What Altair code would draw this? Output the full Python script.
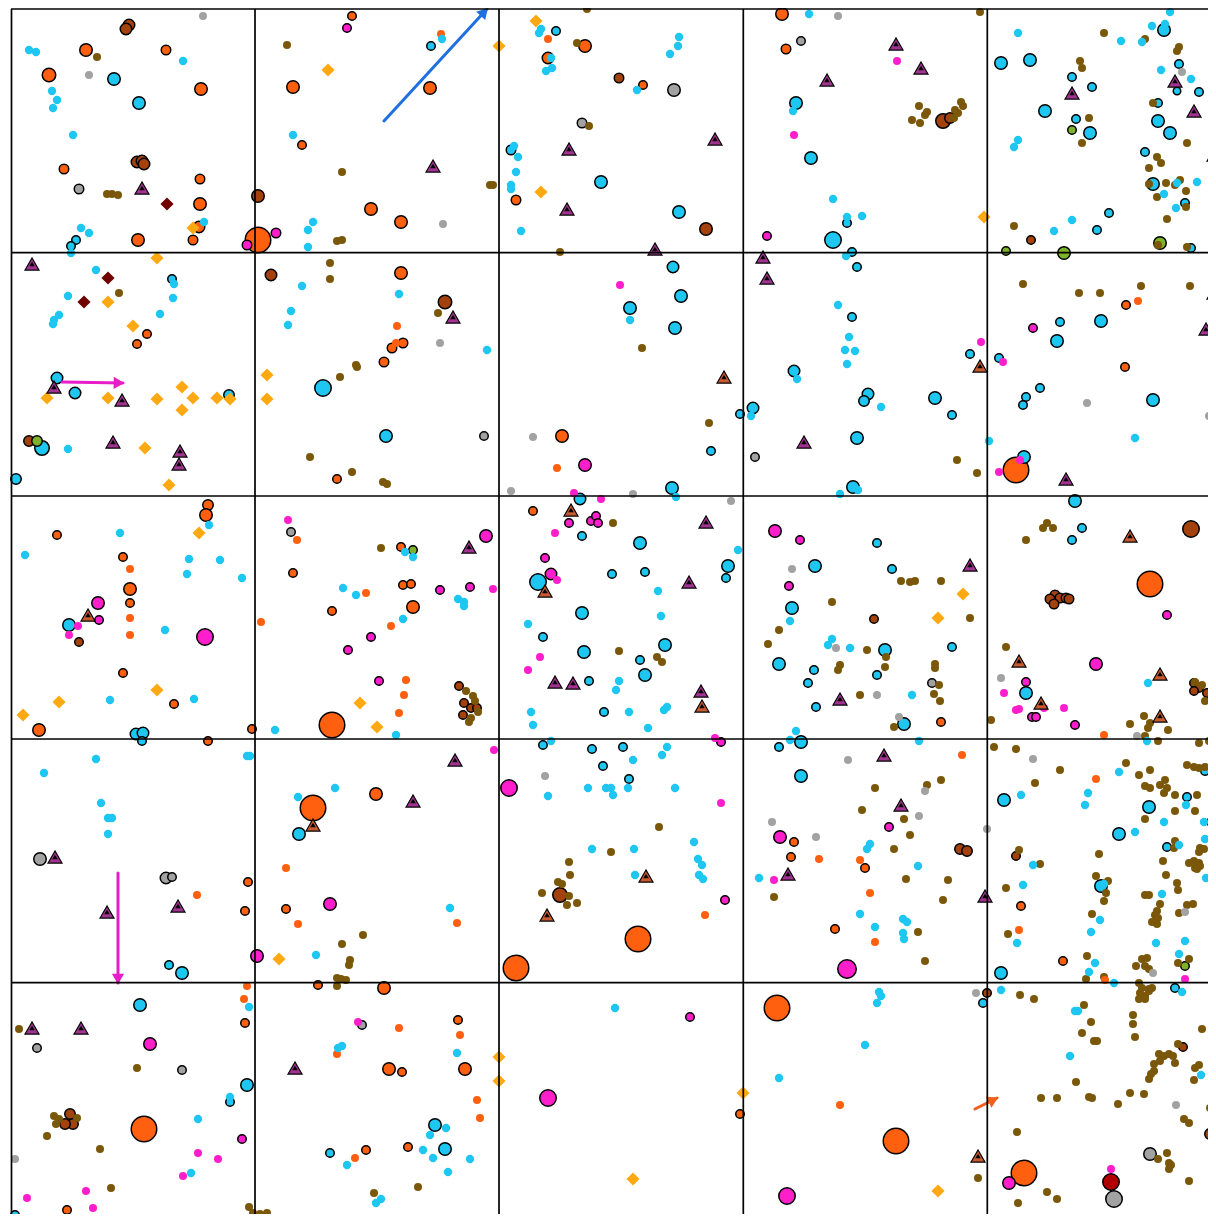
import altair as alt
import pandas as pd

# ---------------- data (stem map, local units; 244 units per quadrat) ----------------
quad_x = [0.5, 244, 488, 732.3, 976.3]
quad_y = [0, 243.7, 487, 730, 973.7]

cyan_small = [(18,41),(25,43),(172,52),(41,82),(46,91),(42,99),(62,126),(193,213),(70,219),(78,224),(60,244),(282,126),(297,221),(302,213),(297,238),
 (431,30),(528,24),(530,20),(540,49),(541,59),(535,62),(503,137),(507,148),(505,163),(500,176),(500,180),(510,222),(668,28),(667,37),(659,45),(626,81),
 (798,5),(782,102),(822,190),(836,208),(851,207),(835,247),
 (1159,3),(1007,24),(1110,32),(1141,17),(1154,15),(1131,33),(1150,61),(1180,70),(1007,131),(1003,138),(1166,174),(1186,173),(1153,185),(1165,199),(1061,211),(1043,222),
 (85,261),(163,275),(57,287),(162,289),(48,306),(43,311),(42,315),(149,305),(291,277),(280,302),(277,316),(57,440),(388,285),(476,341),(619,311),(665,488),(740,407),
 (827,296),(838,328),(834,341),(844,342),(836,355),(786,370),(870,398),(829,485),(847,481),(978,432),(1124,429),
 (198,516),(109,524),(14,546),(178,550),(209,551),(176,565),(231,569),(154,621),(99,691),(183,690),(264,721),(394,543),(402,548),(332,579),(345,586),(447,590),(453,593),
 (453,597),(392,610),(385,726),(517,615),(520,703),(522,716),(727,541),(647,582),(650,607),(608,672),(605,681),(618,703),(653,701),(656,698),(637,719),(779,612),(817,636),
 (821,630),(839,639),(901,686),(785,722),(779,731),(1137,674),(1136,732),(1204,741),(1203,749),(1201,757),
 (236,747),(239,747),(85,750),(33,764),(90,794),(97,809),(101,809),(97,825),(287,788),(324,779),(305,946),(439,899),(540,732),(537,787),(577,779),(595,779),(656,738),
 (651,746),(622,751),(617,779),(600,779),(602,786),(664,779),(581,840),(623,840),(683,833),(687,850),(691,856),(624,866),(688,866),(692,870),(859,835),(856,840),(748,869),
 (849,905),(864,918),(892,910),(896,913),(892,924),(893,930),(908,732),(907,857),(1108,763),(1077,784),(1074,796),(1010,786),(1175,796),(1124,823),(1153,813),(1193,813),
 (1168,836),(1194,830),(1022,856),(1012,876),(1006,934),(1195,869),(1093,875),(1151,885),(1089,911),(1080,923),(1145,934),(1174,932),(1168,945),(1084,954),(1078,963),
 (1103,974),(1171,983),
 (238,998),(219,1088),(187,1110),(180,1164),(331,1037),(327,1039),(446,1044),(435,1119),(419,1126),(336,1156),(412,1141),(422,1149),(459,1150),(437,1163),(370,1190),
 (365,1194),(604,999),(868,983),(870,987),(866,994),(854,1036),(768,1069),(990,981),(1064,1002),(1067,1002),(1059,1047),(1190,1066)]

cyan_big = [(103,70,14),(128,94,14),(65,231,10),(60,237,10),(420,37,10),(545,22,10),(500,141,11),(590,173,14),(668,203,14),(785,94,14),(800,149,14),(836,214,10),
 (822,231,18),(841,243,10),(1153,21,14),(990,54,14),(1019,51,14),(1061,68,10),(1081,78,10),(1168,55,10),(1166,82,9),(1188,83,10),(1034,102,14),(1065,110,10),(1079,124,14),
 (1147,94,10),(1147,112,14),(1159,124,14),(1134,143,10),(1142,175,14),(1174,194,10),(1098,204,10),(1086,221,10),(1180,239,10),(1204,214,10),(1204,228,10),
 (161,270,10),(46,369,13),(64,384,13),(218,386,12),(31,439,16),(5,470,12),(312,379,18),(375,427,14),(662,258,13),(670,287,14),(619,299,14),(664,319,14),(700,442,10),
 (661,479,14),(846,258,10),(841,308,10),(783,362,13),(857,385,13),(853,392,12),(742,399,13),(729,405,10),(846,429,14),(842,478,14),(941,406,10),(959,345,10),(924,389,14),
 (1090,312,14),(1049,313,10),(1046,332,14),(988,349,10),(1015,388,10),(1012,396,10),(1029,379,10),(1142,391,14),(1013,448,14),
 (58,616,14),(125,725,13),(132,724,13),(131,732,10),(569,490,13),(571,527,10),(527,573,18),(571,604,14),(532,628,10),(573,643,14),(578,672,10),(593,703,10),(629,534,14),
 (717,557,14),(715,569,10),(601,565,10),(634,563,10),(654,636,14),(629,651,10),(634,666,14),(866,534,10),(804,557,14),(881,560,10),(781,599,14),(874,641,14),(768,655,14),
 (803,661,10),(866,666,10),(797,674,10),(805,698,10),(893,715,14),(790,733,14),(768,738,10),(941,638,10),(1064,492,14),(1071,519,10),(1061,531,10),(1015,684,14),
 (288,825,14),(532,736,10),(581,740,10),(592,757,10),(612,738,10),(618,770,10),(790,767,14),(158,956,10),(171,964,14),(1194,762,10),(993,791,14),(1138,798,14),(1176,788,10),
 (1108,825,14),(1156,838,10),(1090,877,14),(990,964,14),(1164,979,10),
 (129,996,14),(236,1076,14),(219,1093,10),(4,1206,10),(424,1116,14),(319,1144,10),(434,1140,14),(972,994,10)]

orange_big = [(75,41,14),(155,41,11),(38,66,15),(190,80,14),(53,160,11),(189,170,11),(189,195,14),(188,218,13),(127,231,14),(182,231,11),(247,231,27),(282,78,14),
 (291,136,10),(341,7,10),(419,79,14),(360,200,14),(390,213,14),(574,37,14),(537,49,13),(505,191,11),(632,76,10),(771,5,14),(775,40,11),
 (136,325,10),(126,335,10),(390,264,14),(381,339,11),(392,334,11),(373,353,11),(326,470,10),(551,427,14),(1115,296,10),(1114,358,10),(1005,461,27),
 (197,496,12),(195,506,14),(46,526,10),(112,548,10),(119,580,14),(119,594,10),(112,664,10),(163,695,10),(28,721,14),(197,732,10),(241,720,10),(282,564,10),(522,502,10),
 (390,538,10),(392,576,10),(400,575,10),(321,602,10),(402,598,14),(321,716,27),(930,713,10),(1139,575,27),
 (365,785,14),(302,799,27),(237,873,10),(234,902,10),(275,900,10),(307,976,10),(373,979,14),(505,959,27),(627,930,27),(783,833,10),(780,848,10),(854,859,10),(824,920,10),
 (1010,897,10),(1052,952,10),
 (234,1014,10),(133,1120,27),(56,1201,10),(447,1011,10),(378,1060,14),(391,1063,10),(454,1060,14),(355,1141,10),(397,1138,10),(729,1105,10),(766,999,27),(885,1132,27),
 (1013,1164,27)]

orange_small = [(430,25),(537,30),(386,317),(385,334),(546,459),(1127,292),(119,560),(119,609),(119,626),(286,531),(250,613),(355,584),(380,617),(395,671),(393,686),
 (388,704),(1093,726),(186,886),(275,859),(287,915),(446,914),(694,906),(808,850),(849,851),(859,884),(864,933),(951,746),(1085,770),(1008,921),(1094,971),(236,977),
 (233,990),(388,1019),(449,1026),(326,1045),(466,1091),(469,1109),(344,1149),(829,1096)]

brown_small = [(86,48),(96,185),(101,185),(107,186),(276,36),(331,163),(479,176),(482,176),(326,232),(331,231),(576,0),(566,34),(578,117),(549,243),
 (908,97),(914,106),(901,111),(909,114),(916,103),(944,101),(950,93),(952,97),(947,104),(943,109),(969,3),(1093,24),(1134,30),(1168,38),(1166,42),(1069,52),(1071,59),
 (1078,109),(1071,134),(1142,94),(1176,134),(1146,148),(1150,154),(1138,159),(1138,175),(1155,174),(1164,176),(1169,171),(1175,182),(1146,188),(1175,198),(1156,210),
 (1003,217),(1147,236),(1176,238),
 (108,284),(319,254),(319,270),(427,304),(345,356),(346,358),(329,368),(299,448),(341,463),(372,473),(376,475),(631,339),(698,414),(946,451),(966,464),(1012,275),
 (1068,284),(1089,284),(1130,277),(1179,277),
 (370,539),(455,682),(462,687),(464,692),(467,703),(458,713),(460,709),(602,514),(608,642),(646,648),(651,653),(890,572),(899,573),(821,593),(768,621),(757,635),(856,641),
 (875,648),(874,658),(829,656),(827,661),(849,686),(883,718),(904,572),(930,572),(959,609),(924,655),(924,659),(928,676),(923,685),(929,692),(1032,519),(1036,514),
 (1042,519),(1015,531),(1204,591),(995,638),(1184,673),(1191,676),(1194,692),(980,711),(1119,715),(1133,707),(1139,714),(1137,719),(1157,721),(1134,727),(1147,732),
 (1188,734),(1198,732),
 (864,779),(851,801),(930,771),(916,776),(983,738),(1005,740),(1049,761),(1024,774),(1115,754),(1128,766),(1139,761),(1134,777),(1139,779),(1149,776),(1154,771),(1156,779),
 (1153,784),(1176,756),(1183,758),(1188,759),(1194,758),(1164,786),(1186,786),(1164,802),(1184,802),(937,871),(932,891),(907,923),(914,952),(1008,841),(1029,855),(995,879),
 (997,925),(1134,810),(1088,845),(1164,832),(1163,839),(1189,839),(1193,840),(1188,843),(1152,852),(1178,854),(1183,852),(1188,854),(1184,859),(1189,857),(1186,860),
 (1085,867),(1097,872),(1095,884),(1093,892),(1155,866),(1134,886),(1138,886),(1166,874),(1167,881),(1149,895),(1146,902),(1144,906),(1141,913),(1146,915),(1147,909),
 (1176,896),(1182,895),(1168,904),(1081,905),(1167,954),(1178,950),(1076,947),(1075,970),(1093,968),(1125,957),(1131,950),(1136,949),(1134,957),(1138,960),(1128,974),
 (1131,979),(1138,980),(1141,979),(1129,984),(1134,987),(1138,982),(1128,990),(1134,990),(893,810),(899,826),(883,840),(895,870),(763,888),(648,818),(600,843),(558,853),
 (559,866),(547,873),(551,875),(531,884),(558,887),(556,896),(566,894),(352,926),(331,935),(339,951),(338,956),(326,969),(330,970),(335,971),(326,977),
 (8,1020),(126,1059),(43,1107),(45,1115),(48,1110),(66,1109),(36,1127),(89,1140),(100,1179),(238,1198),(242,1204),(249,1205),(256,1204),(266,1212),(241,1210),(407,1178),
 (363,1184),(1009,986),(1023,990),(1073,996),(1080,1013),(1071,1024),(1083,1032),(1086,1032),(1122,1006),(1122,1015),(1124,1028),(1191,1020),(1167,1035),(1148,1045),
 (1153,1047),(1158,1045),(1149,1052),(1143,1055),(1164,1054),(1162,1047),(1143,1062),(1140,1065),(1138,1070),(1188,1056),(1184,1059),(1183,1071),(1065,1073),(1030,1089),
 (1046,1089),(1078,1088),(1081,1089),(1107,1095),(1119,1084),(1133,1085),(1199,1099),(1173,1110),(1178,1114),(1006,1123),(1147,1150),(1156,1144),(1158,1154),(1160,1156),
 (1158,1160),(1201,1155),(967,1169),(1178,1172),(1203,1179),(1036,1183),(1046,1190),(1007,1194),(1055,1209)]

sienna_big = [(118,16,13),(115,20,13),(126,153,13),(131,152,13),(133,155,13),(247,187,14),(608,69,11),(695,220,14),(932,112,16),(939,109,12),(1020,231,10),(18,432,12),
 (260,266,13),(434,293,15),(68,633,10),(448,677,10),(453,694,10),(452,706,10),(460,699,10),(466,699,10),(863,610,10),(1180,520,18),(1044,586,11),(1049,589,11),(1055,589,11),
 (1039,590,11),(1043,595,11),(1058,590,11),(1183,674,10),(1188,679,10),(1196,684,10),(1183,682,10),(549,886,16),(949,840,12),(956,842,12),(1005,847,10),(59,1105,12),
 (62,1115,12),(54,1115,12),(976,984,10),(1172,1038,10),(1199,1125,12)]

gray_small = [(192,7),(78,66),(432,215),(827,7),(1171,63),(429,334),(522,428),(500,482),(622,485),(720,492),(1076,394),(1198,407),(781,560),(825,639),(866,686),(888,708),
 (990,669),(1126,727),(534,767),(837,751),(1022,750),(914,782),(908,807),(976,820),(761,813),(805,828),(1174,903),(1142,964),(965,984),(1165,1096),(4,1150)]

gray_big = [(68,180,11),(571,114,11),(663,81,14),(790,32,10),(473,427,10),(744,448,10),(280,523,10),(921,674,10),(29,850,14),(155,869,13),(161,868,10),(26,1039,10),
 (171,1061,10),(351,1016,10),(1139,1145,14),(1103,1190,18)]

magenta_small = [(886,52),(783,126),(609,276),(970,333),(992,353),(1009,451),(988,463),(277,511),(67,617),(58,626),(563,484),(590,490),(544,524),(546,571),(529,648),
 (517,661),(482,580),(704,729),(993,684),(1005,701),(1008,700),(1033,699),(1053,699),(483,741),(710,794),(763,871),(1174,970),(347,1013),(187,1144),(207,1150),(172,1167),
 (75,1182),(82,1199),(16,1189),(1100,1160),(1131,1212)]

magenta_big = [(236,236,11),(265,224,11),(336,19,10),(756,227,10),(1022,319,10),(574,456,14),(87,594,14),(88,611,10),(194,628,18),(558,514,10),(580,512,10),(585,507,10),
 (587,514,10),(534,549,10),(540,565,13),(475,527,14),(429,581,10),(459,578,10),(360,628,10),(337,641,10),(368,672,10),(710,733,10),(764,522,14),(789,531,10),(778,577,10),
 (1156,606,10),(1085,655,14),(1015,673,10),(1021,708,10),(1025,708,10),(1064,716,10),(498,779,18),(319,895,14),(246,947,14),(714,891,10),(769,828,14),(878,818,10),
 (836,960,20),(139,1035,14),(231,1130,10),(537,1089,18),(679,1008,10),(776,1187,18),(998,1174,14)]

green_big = [(26,432,12),(402,541,10),(1061,121,10),(995,242,10),(1053,244,14),(1149,234,14),(1200,813,10),(1174,957,10)]
darkred_big = [(1100,1173,18)]

gold_diamond = [(182,219),(317,61),(525,12),(488,37),(530,183),(973,208),(146,249),(97,293),(122,317),(36,389),(97,389),(146,390),(171,378),(182,389),(206,389),(219,390),
 (171,401),(256,366),(256,390),(134,439),(158,476),(188,524),(146,681),(48,693),(12,706),(349,694),(366,718),(952,585),(927,609),(268,950),(488,1048),(488,1072),(732,1084),
 (622,1170),(927,1182)]
darkred_diamond = [(156,195),(97,269),(73,293)]

purple_triangle = [(131,179),(422,157),(558,140),(556,200),(704,130),(644,240),(885,35),(816,71),(910,59),(1061,84),(1164,72),(1183,102),(1203,146),(21,255),(43,378),
 (111,391),(102,433),(169,442),(168,455),(442,308),(752,248),(756,269),(793,433),(1203,284),(1195,320),(1055,470),(458,538),(544,673),(562,674),(695,513),(678,573),
 (690,682),(829,690),(959,556),(444,751),(402,792),(873,746),(890,796),(44,848),(96,903),(167,897),(777,865),(974,887),(21,1019),(70,1019),(284,1059)]
rust_triangle = [(713,368),(969,357),(77,606),(560,501),(534,582),(691,697),(1119,527),(1008,652),(1149,665),(1030,694),(1149,707),(302,816),(536,906),(635,867),(967,1147)]

arrow_start = [(373,112),(51,373),(107,864),(964,1100)]
arrow_end = [(476,0),(112,374),(107,974),(986,1089)]
arrow_color = ["#1E6FE0", "#E81CC8", "#E81CC8", "#F06020"]

# ---------------- chart ----------------
# fixed-size SVG (autosize none) so marks near the edges cannot enlarge the page
W, H = 1197, 1205
xsc = alt.Scale(domain=[0, W], nice=False, zero=False)
ysc = alt.Scale(domain=[0, H], nice=False, zero=False, reverse=True)


def XY():
    return dict(x=alt.X("x:Q", scale=xsc, axis=None), y=alt.Y("y:Q", scale=ysc, axis=None))


def dots(pts, color, size):
    df = pd.DataFrame(pts, columns=["x", "y"])
    return alt.Chart(df).mark_circle(color=color, size=size, opacity=1).encode(**XY())


def rings(pts, color):
    df = pd.DataFrame(pts, columns=["x", "y", "d"])
    return (alt.Chart(df)
            .transform_calculate(s="pow(datum.d - 1.5, 2)")
            .mark_circle(color=color, fill=color, stroke="black", strokeWidth=1.5, opacity=1)
            .encode(**XY(), size=alt.Size("s:Q", scale=None, legend=None)))


def diamonds(pts, color):
    df = pd.DataFrame(pts, columns=["x", "y"])
    return alt.Chart(df).mark_point(shape="diamond", filled=True, color=color, size=172, opacity=1).encode(**XY())


def triangles(pts, color):
    df = pd.DataFrame(pts, columns=["x", "y"])
    outer = alt.Chart(df).mark_point(shape="triangle-up", filled=True, color=color, fill=color,
                                     stroke="black", strokeWidth=1.2, size=195, opacity=1).encode(**XY())
    inner = alt.Chart(df).mark_point(shape="triangle-up", filled=True, color="black", size=30,
                                     opacity=1).encode(**XY())
    return outer + inner


arrow_df = pd.DataFrame({
    "x": [p[0] for p in arrow_start], "y": [p[1] for p in arrow_start],
    "x2": [p[0] for p in arrow_end], "y2": [p[1] for p in arrow_end],
    "c": arrow_color,
})
arrow_lines = alt.Chart(arrow_df).mark_rule(strokeWidth=3, strokeCap="round").encode(
    x=alt.X("x:Q", scale=xsc, axis=None), y=alt.Y("y:Q", scale=ysc, axis=None),
    x2="x2:Q", y2="y2:Q", color=alt.Color("c:N", scale=None, legend=None))
arrow_heads = (alt.Chart(arrow_df)
               .transform_calculate(
                   L="sqrt(pow(datum.x2-datum.x,2)+pow(datum.y2-datum.y,2))",
                   hx="datum.x2 - 4*(datum.x2-datum.x)/datum.L",
                   hy="datum.y2 - 4*(datum.y2-datum.y)/datum.L",
                   ang="(atan2(datum.x2-datum.x, datum.y-datum.y2)*180/PI + 360) % 360")
               .mark_point(shape="triangle-up", filled=True, size=150, opacity=1)
               .encode(x=alt.X("hx:Q", scale=xsc, axis=None), y=alt.Y("hy:Q", scale=ysc, axis=None),
                       angle=alt.Angle("ang:Q", scale=None),
                       color=alt.Color("c:N", scale=None, legend=None)))

vlines = alt.Chart(pd.DataFrame({"g": quad_x})).mark_rule(color="black", strokeWidth=1.7).encode(
    x=alt.X("g:Q", scale=xsc, axis=None))
hlines = alt.Chart(pd.DataFrame({"g": quad_y})).mark_rule(color="black", strokeWidth=1.7).encode(
    y=alt.Y("g:Q", scale=ysc, axis=None))

ORANGE = "#FF6010"
CYAN = "#1EC6F2"
BROWN = "#7A5709"
SIENNA = "#A4420E"
GRAY = "#A2A2A2"
MAGENTA = "#FF1ECB"

chart = alt.layer(
    rings(orange_big, ORANGE),
    rings(sienna_big, SIENNA),
    rings(gray_big, GRAY),
    rings(cyan_big, CYAN),
    rings(magenta_big, MAGENTA),
    rings(green_big, "#7DB32A"),
    rings(darkred_big, "#B00000"),
    dots(brown_small, BROWN, 64),
    dots(gray_small, GRAY, 64),
    dots(orange_small, ORANGE, 64),
    dots(cyan_small, CYAN, 70),
    dots(magenta_small, MAGENTA, 64),
    diamonds(gold_diamond, "#FFA912"),
    diamonds(darkred_diamond, "#700000"),
    triangles(purple_triangle, "#A0338F"),
    triangles(rust_triangle, "#C85A30"),
    arrow_lines,
    arrow_heads,
    vlines,
    hlines,
).properties(
    width=W, height=H,
    padding={"left": 3, "top": 1, "right": 0, "bottom": 0},
    autosize=alt.AutoSizeParams(type="none"),
).configure_view(strokeWidth=0)

chart.save("out.html", embed_options={"renderer": "svg", "actions": False})
